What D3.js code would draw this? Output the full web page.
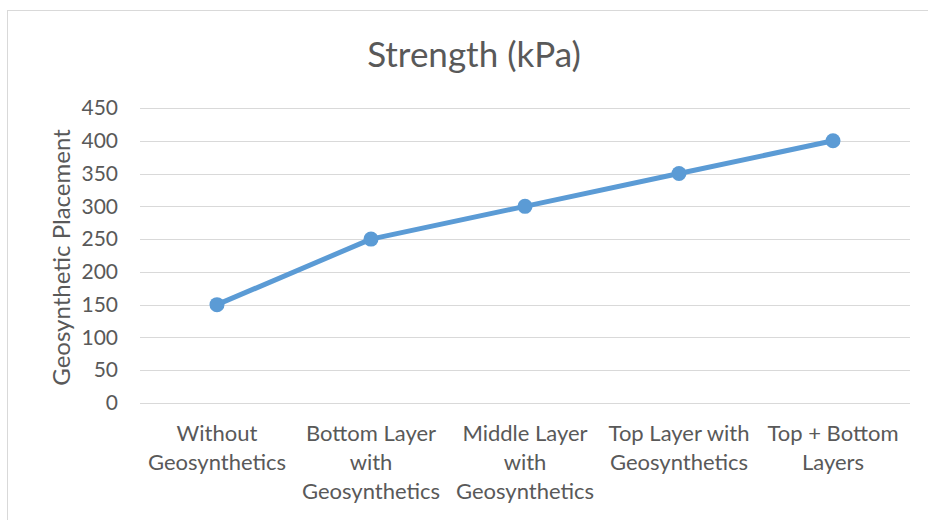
<!DOCTYPE html>
<html>
<head>
<meta charset="utf-8">
<script src="https://cdn.jsdelivr.net/npm/d3@7"></script>
<style>
  html, body { margin: 0; padding: 0; background: #fff; }
  svg { display: block; }
  text { font-family: Lato, "Open Sans", sans-serif; fill: #595959; }
</style>
</head>
<body>
<svg id="chart" width="928" height="520"></svg>
<script>
// Strength by geosynthetic placement
const categories = [
  ["Without", "Geosynthetics"],
  ["Bottom Layer", "with", "Geosynthetics"],
  ["Middle Layer", "with", "Geosynthetics"],
  ["Top Layer with", "Geosynthetics"],
  ["Top + Bottom", "Layers"]
];
const strength = [150, 250, 300, 350, 400];
const yTicks = [0, 50, 100, 150, 200, 250, 300, 350, 400, 450];

const svg = d3.select("#chart");
const W = 928, H = 520;
const plot = { left: 140, right: 910, top: 108, bottom: 403 };

// chart frame
svg.append("rect")
  .attr("x", 7.5).attr("y", 10.5)
  .attr("width", W).attr("height", H)
  .attr("fill", "#fff").attr("stroke", "#d9d9d9").attr("stroke-width", 1);

const x = d3.scaleBand()
  .domain(d3.range(categories.length))
  .range([plot.left, plot.right])
  .padding(0);

const y = d3.scaleLinear()
  .domain([0, 450])
  .range([plot.bottom, plot.top]);

// gridlines
svg.append("g")
  .selectAll("line")
  .data(yTicks)
  .join("line")
  .attr("x1", plot.left).attr("x2", plot.right)
  .attr("y1", d => Math.round(y(d)) + 0.5).attr("y2", d => Math.round(y(d)) + 0.5)
  .attr("stroke", "#d9d9d9").attr("stroke-width", 1.2);

// y axis labels
const yAxis = d3.axisLeft(y).tickValues(yTicks).tickSize(0).tickPadding(22);
const gy = svg.append("g").attr("transform", `translate(${plot.left},0)`).call(yAxis);
gy.select(".domain").remove();
gy.selectAll("text")
  .style("font-size", "21px")
  .style("font-family", "Lato, sans-serif")
  .attr("fill", "#595959");

// x axis labels (multi-line)
const xg = svg.append("g");
categories.forEach((lines, i) => {
  const t = xg.append("text")
    .attr("text-anchor", "middle")
    .attr("x", x(i) + x.bandwidth() / 2)
    .attr("y", 441)
    .style("font-size", "22px");
  lines.forEach((ln, j) => {
    t.append("tspan")
      .attr("x", x(i) + x.bandwidth() / 2)
      .attr("dy", j === 0 ? 0 : 29)
      .text(ln);
  });
});

// line + markers
const cx = i => x(i) + x.bandwidth() / 2;
const line = d3.line().x((d, i) => cx(i)).y(d => y(d));
svg.append("path")
  .datum(strength)
  .attr("d", line)
  .attr("fill", "none")
  .attr("stroke", "#5b9bd5")
  .attr("stroke-width", 5)
  .attr("stroke-linejoin", "round")
  .attr("stroke-linecap", "round");

svg.append("g")
  .selectAll("circle")
  .data(strength)
  .join("circle")
  .attr("cx", (d, i) => cx(i))
  .attr("cy", d => y(d))
  .attr("r", 7.5)
  .attr("fill", "#5b9bd5");

// title
svg.append("text")
  .attr("x", 474).attr("y", 67)
  .attr("text-anchor", "middle")
  .style("font-size", "35px")
  .text("Strength (kPa)");

// y axis title
svg.append("text")
  .attr("transform", `translate(70,${(plot.top + plot.bottom) / 2 + 2}) rotate(-90)`)
  .attr("text-anchor", "middle")
  .style("font-size", "24px")
  .text("Geosynthetic Placement");
</script>
</body>
</html>
